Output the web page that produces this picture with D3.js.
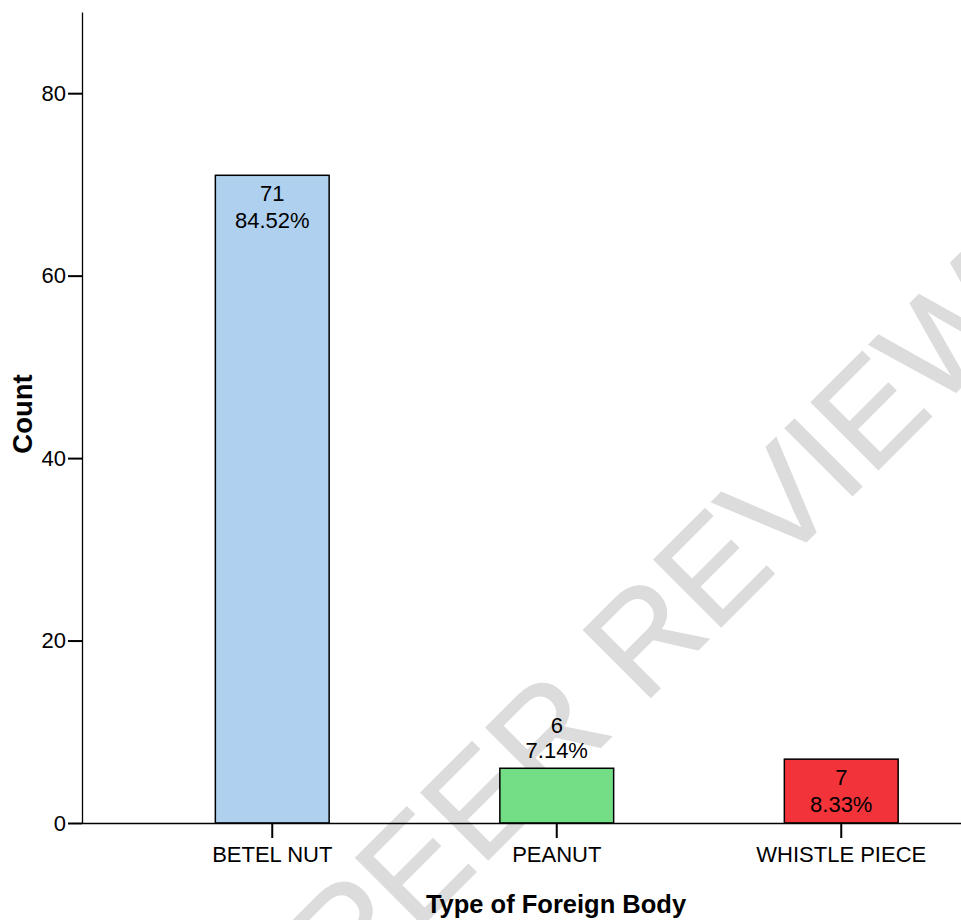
<!DOCTYPE html>
<html><head><meta charset="utf-8">
<script src="https://cdn.jsdelivr.net/npm/d3@7"></script>
<style>body{margin:0;background:#fff}svg{display:block}text{font-family:"Liberation Sans",Arial,sans-serif}</style>
</head><body><div id="chart"></div>
<script>
const categories = ["BETEL NUT", "PEANUT", "WHISTLE PIECE"];
const counts = [71, 6, 7];
const percents = ["84.52%", "7.14%", "8.33%"];
const colors = ["#afd0ee", "#73de86", "#f2333a"];
const yTicks = [0, 20, 40, 60, 80];

const W = 961, H = 920;
const svg = d3.select("#chart").append("svg").attr("width", W).attr("height", H);

// watermark
svg.append("text").attr("transform", "translate(350,998) rotate(-45)")
  .attr("font-size", 138).attr("fill", "#dcdcdc").attr("stroke", "#dcdcdc").attr("stroke-width", 1.5)
  .attr("font-family", "Liberation Sans, Arial, sans-serif")
  .attr("text-anchor", "start").text("PEER REVIEW");

const y = d3.scaleLinear().domain([0, 88.9]).range([823, 12]);
const x = d3.scaleBand().domain(categories).range([130, 983.5]).paddingInner(0.6).paddingOuter(0.3);

const g = svg.append("g");
g.selectAll("rect.bar").data(categories).join("rect")
  .attr("x", d => x(d)).attr("width", x.bandwidth())
  .attr("y", (d, i) => y(counts[i])).attr("height", (d, i) => y(0) - y(counts[i]))
  .attr("fill", (d, i) => colors[i]).attr("stroke", "#000").attr("stroke-width", 1.5);

// y axis
const yAxis = g.append("g").attr("transform", "translate(82,0)")
  .call(d3.axisLeft(y).tickValues(yTicks).tickSize(14).tickPadding(2).tickSizeOuter(0));
yAxis.select(".domain").attr("stroke-width", 1.3);
yAxis.selectAll(".tick line").attr("stroke-width", 2);
yAxis.selectAll(".tick text").attr("font-size", 22).attr("fill", "#000").attr("font-family", "Liberation Sans, Arial, sans-serif");

// x axis
const xAxis = g.append("g").attr("transform", "translate(0,823)")
  .call(d3.axisBottom(x).tickSize(15).tickPadding(8).tickSizeOuter(0));
xAxis.select(".domain").attr("d", "M82,0.5H961").attr("stroke-width", 1.3);
xAxis.selectAll(".tick line").attr("stroke-width", 2);
xAxis.selectAll(".tick text").attr("font-size", 22).attr("fill", "#000").attr("font-family", "Liberation Sans, Arial, sans-serif");

// value labels
categories.forEach((c, i) => {
  const cx = x(c) + x.bandwidth() / 2;
  const top = y(counts[i]);
  const inside = (y(0) - top) > 60;
  const l1 = inside ? top + 18 : top - 43;
  const l2 = inside ? top + 45 : top - 18;
  g.append("text").attr("x", cx).attr("y", l1).attr("dy", "0.35em").attr("text-anchor", "middle")
    .attr("font-size", 22).text(counts[i]);
  g.append("text").attr("x", cx).attr("y", l2).attr("dy", "0.35em").attr("text-anchor", "middle")
    .attr("font-size", 22).text(percents[i]);
});

// axis titles
svg.append("text").attr("x", 556).attr("y", 913).attr("text-anchor", "middle")
  .attr("font-size", 25.5).attr("font-weight", "bold").text("Type of Foreign Body");
svg.append("text").attr("transform", "translate(32,414) rotate(-90)").attr("text-anchor", "middle")
  .attr("font-size", 27.5).attr("font-weight", "bold").text("Count");
</script></body></html>
